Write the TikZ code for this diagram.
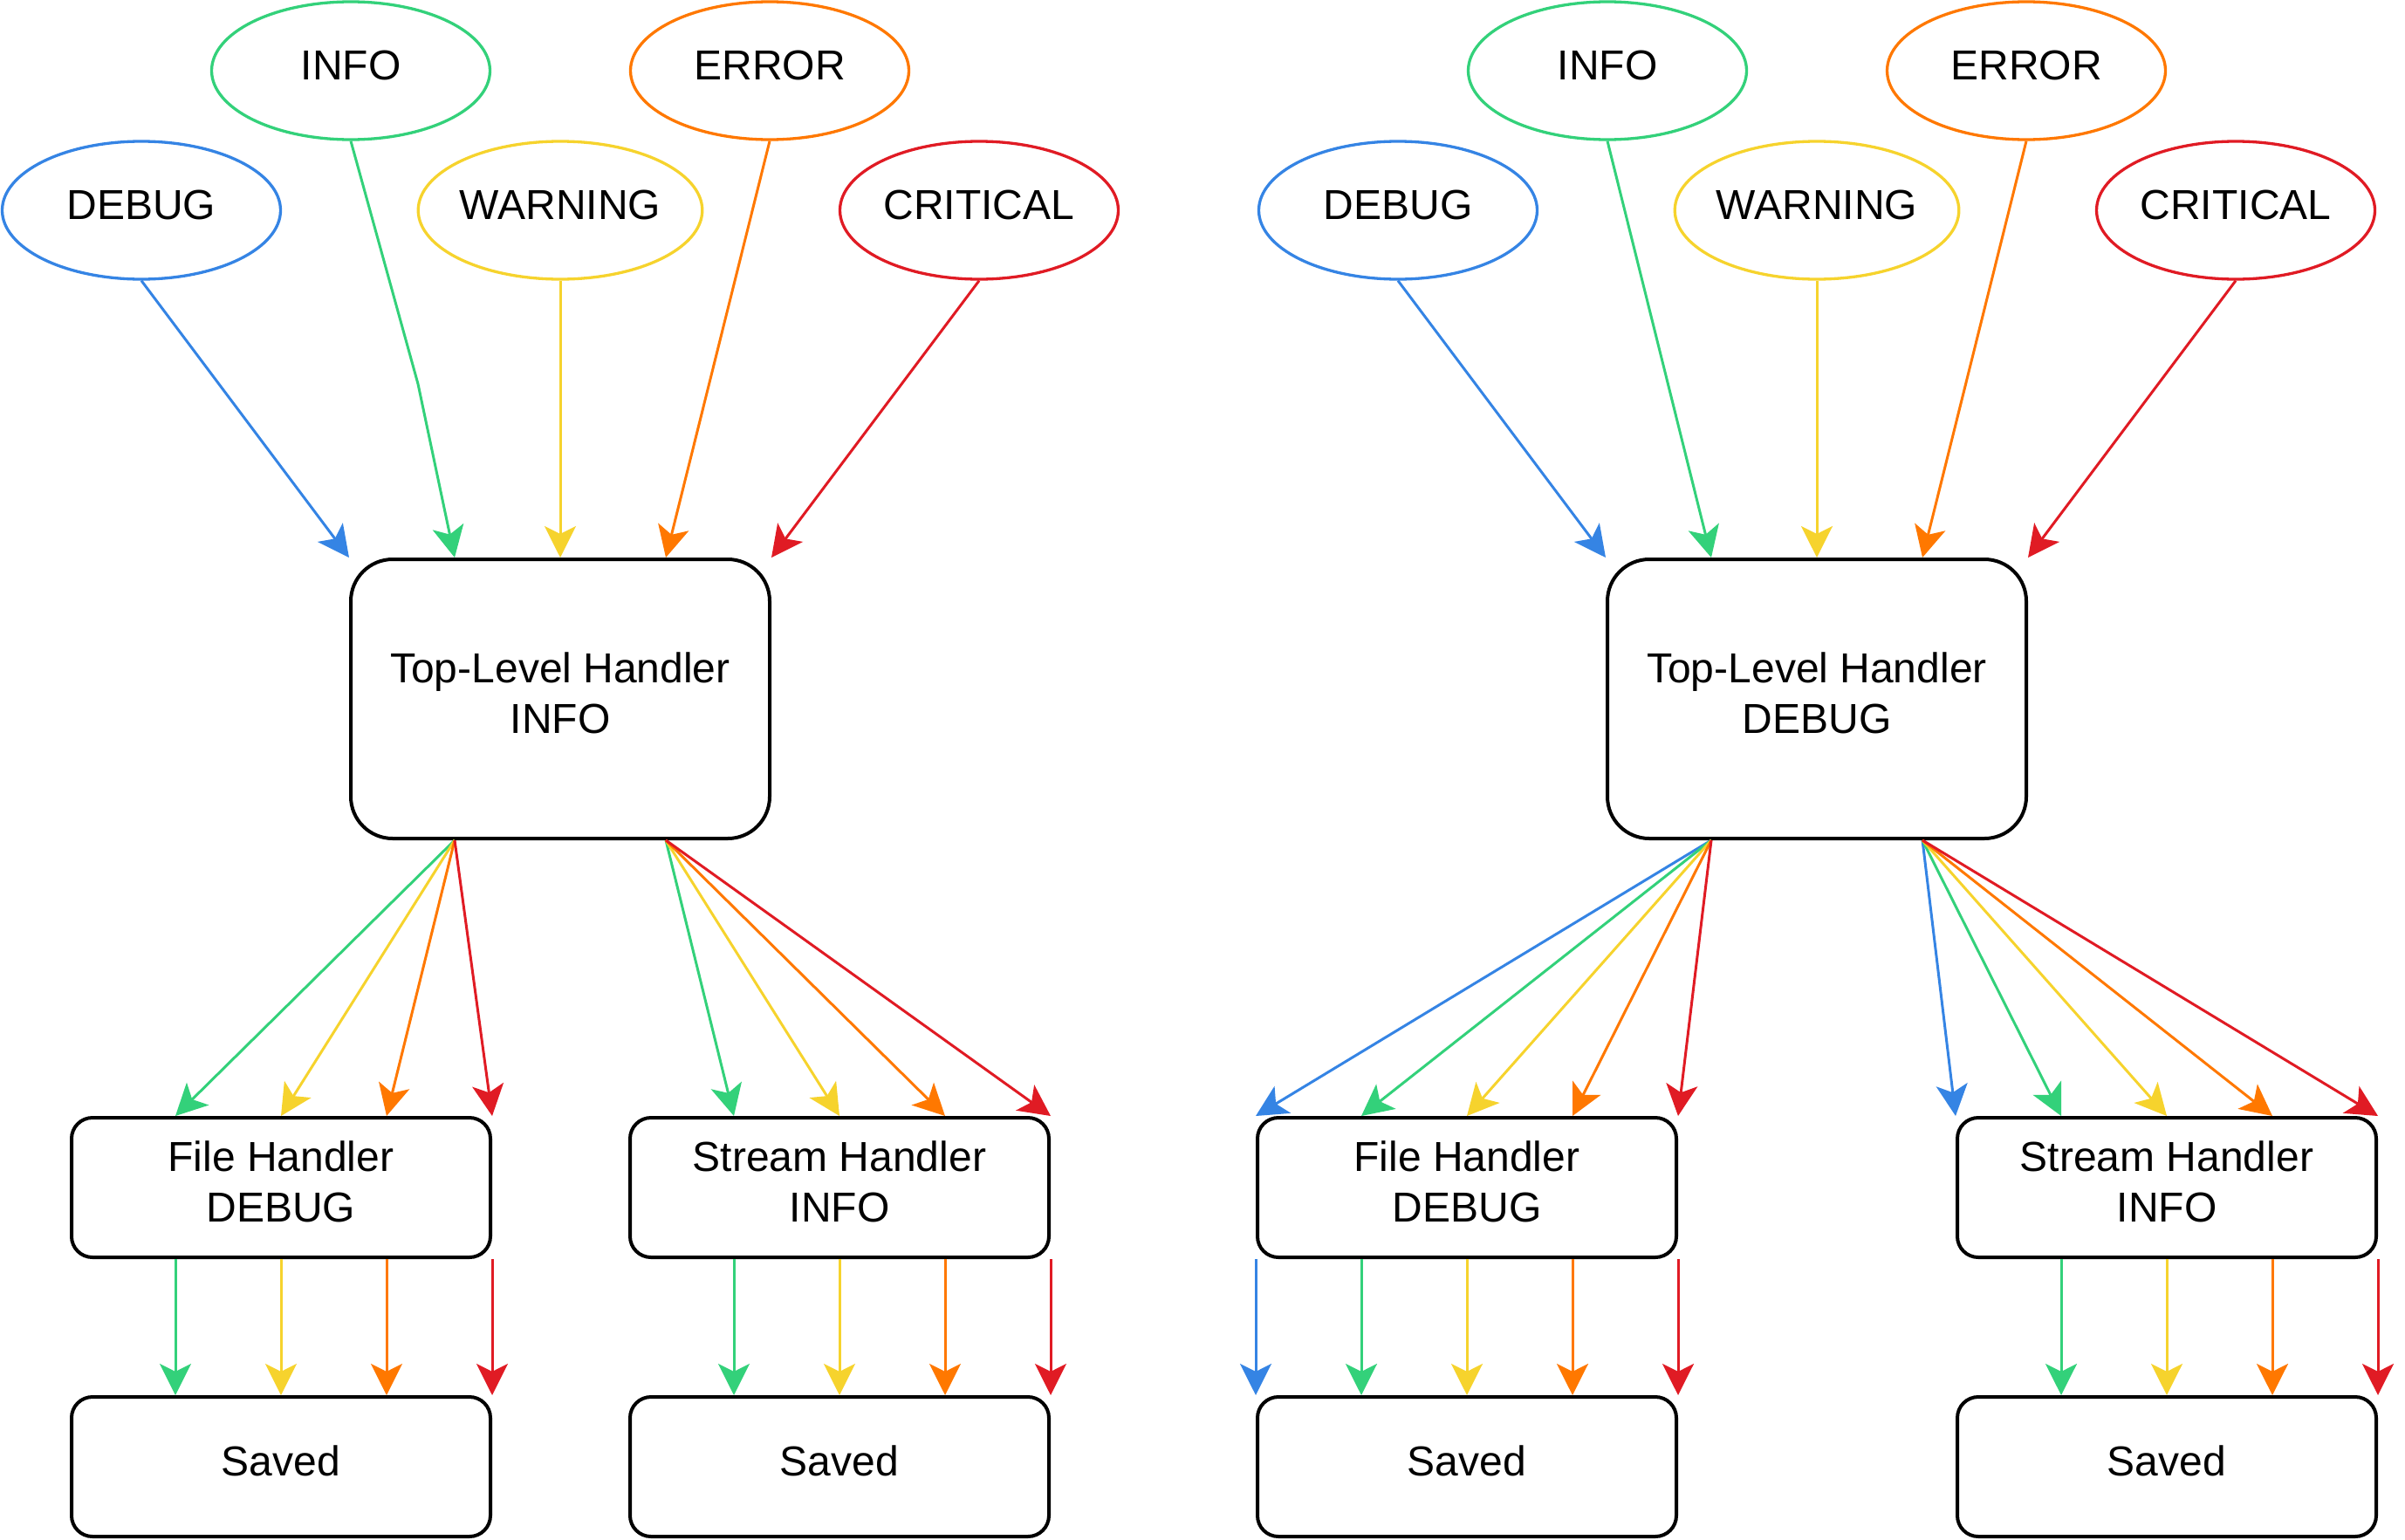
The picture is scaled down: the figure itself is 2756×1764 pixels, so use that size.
\documentclass[tikz,border=0pt]{standalone}
\usepackage{fontspec}
\setmainfont{Liberation Sans}
\usetikzlibrary{shapes.geometric,arrows.meta,calc}
\definecolor{cblue}{HTML}{3584E4}
\definecolor{cgreen}{HTML}{33D17A}
\definecolor{cyellow}{HTML}{F6D32D}
\definecolor{corange}{HTML}{FF7800}
\definecolor{cred}{HTML}{E01B24}
\begin{document}
\begin{tikzpicture}[x=1pt,y=-1pt,
  txt/.style={font=\fontsize{48}{57.6}\selectfont,text height=36pt,text depth=15.6pt,align=center},
  twoline/.style={text height=93.6pt},
  lvl/.style={ellipse,draw,line width=3.3pt,minimum width=319pt,minimum height=158pt,inner sep=0pt,txt},
  box/.style={rectangle,draw=black,line width=4pt,inner sep=0pt,txt},
  bigbox/.style={box,twoline,minimum width=480pt,minimum height=320pt,rounded corners=48pt},
  smallbox/.style={box,minimum width=480pt,minimum height=160pt,rounded corners=24pt},
  flow/.style={line width=3pt,-{Stealth[length=36pt,width=36pt,inset=9pt]}}
]
\useasboundingbox (0,0) rectangle (2756,1764);

% ---------- left diagram ----------
\node[lvl,draw=cblue]   (d1) at (162,241)  {DEBUG};
\node[lvl,draw=cgreen]  (i1) at (402,81)   {INFO};
\node[lvl,draw=cyellow] (w1) at (642,241)  {WARNING};
\node[lvl,draw=corange] (e1) at (882,81)   {ERROR};
\node[lvl,draw=cred]    (c1) at (1122,241) {CRITICAL};
\node[bigbox]   (t1)  at (642,801)  {Top-Level Handler\\INFO};
\node[smallbox,twoline] (fh1) at (322,1361) {File Handler\\DEBUG};
\node[smallbox,twoline] (sh1) at (962,1361) {Stream Handler\\INFO};
\node[smallbox] (fs1) at (322,1681) {Saved};
\node[smallbox] (ss1) at (962,1681) {Saved};

% ---------- right diagram ----------
\node[lvl,draw=cblue]   (d2) at (1602,241) {DEBUG};
\node[lvl,draw=cgreen]  (i2) at (1842,81)  {INFO};
\node[lvl,draw=cyellow] (w2) at (2082,241) {WARNING};
\node[lvl,draw=corange] (e2) at (2322,81)  {ERROR};
\node[lvl,draw=cred]    (c2) at (2562,241) {CRITICAL};
\node[bigbox]   (t2)  at (2082,801)  {Top-Level Handler\\DEBUG};
\node[smallbox,twoline] (fh2) at (1681,1361) {File Handler\\DEBUG};
\node[smallbox,twoline] (sh2) at (2483,1361) {Stream Handler\\INFO};
\node[smallbox] (fs2) at (1681,1681) {Saved};
\node[smallbox] (ss2) at (2483,1681) {Saved};

% ports along top and bottom edges
\foreach \b in {t1,t2,fh1,sh1,fs1,ss1,fh2,sh2,fs2,ss2}{
  \foreach \i/\f in {0/0,1/0.25,2/0.5,3/0.75,4/1}{
    \coordinate (\b n\i) at ($(\b.north west)!\f!(\b.north east)$);
    \coordinate (\b s\i) at ($(\b.south west)!\f!(\b.south east)$);
  }
}
\coordinate (gbend) at (479,440);

% ---------- left connectors ----------
\draw[flow,cblue]   (d1.south) -- (t1n0);
\draw[flow,cgreen]  (i1.south) -- (gbend) -- (t1n1);
\draw[flow,cyellow] (w1.south) -- (t1n2);
\draw[flow,corange] (e1.south) -- (t1n3);
\draw[flow,cred]    (c1.south) -- (t1n4);
\foreach \i/\c in {1/cgreen,2/cyellow,3/corange,4/cred}{
  \draw[flow,\c] (t1s1) -- (fh1n\i);
  \draw[flow,\c] (t1s3) -- (sh1n\i);
  \draw[flow,\c] (fh1s\i) -- (fs1n\i);
  \draw[flow,\c] (sh1s\i) -- (ss1n\i);
}

% ---------- right connectors ----------
\draw[flow,cblue]   (d2.south) -- (t2n0);
\draw[flow,cgreen]  (i2.south) -- (t2n1);
\draw[flow,cyellow] (w2.south) -- (t2n2);
\draw[flow,corange] (e2.south) -- (t2n3);
\draw[flow,cred]    (c2.south) -- (t2n4);
\foreach \i/\c in {0/cblue,1/cgreen,2/cyellow,3/corange,4/cred}{
  \draw[flow,\c] (t2s1) -- (fh2n\i);
  \draw[flow,\c] (t2s3) -- (sh2n\i);
  \draw[flow,\c] (fh2s\i) -- (fs2n\i);
}
\foreach \i/\c in {1/cgreen,2/cyellow,3/corange,4/cred}{
  \draw[flow,\c] (sh2s\i) -- (ss2n\i);
}
\end{tikzpicture}
\end{document}
